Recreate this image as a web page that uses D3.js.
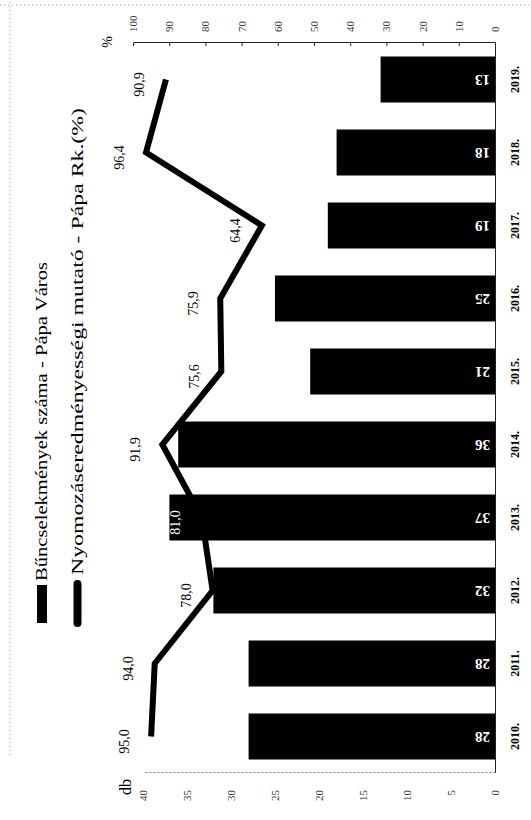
<!DOCTYPE html>
<html>
<head>
<meta charset="utf-8">
<script src="https://cdn.jsdelivr.net/npm/d3@7"></script>
<style>
  body { margin: 0; background: #fff; }
  svg text { font-family: 'Liberation Serif', 'Times New Roman', serif; }
</style>
</head>
<body>
<div id="graph"></div>
<script>
const years = ['2010.', '2011.', '2012.', '2013.', '2014.', '2015.', '2016.', '2017.', '2018.', '2019.'];
const crimeCounts = [28, 28, 32, 37, 36, 21, 25, 19, 18, 13];
const clearanceRates = [95.0, 94.0, 78.0, 81.0, 91.9, 75.6, 75.9, 64.4, 96.4, 90.9];
const dbTicks = [0, 5, 10, 15, 20, 25, 30, 35, 40];
const pctTicks = [0, 10, 20, 30, 40, 50, 60, 70, 80, 90, 100];
const legendLabels = ['Bűncselekmények száma - Pápa Város', 'Nyomozáseredményességi mutató - Pápa Rk.(%)'];

const W = 531, H = 820;

// the scanned chart lies on its side, so build it in an 820 x 531 frame and turn it
const svg = d3.select('#graph')
  .append('svg')
  .attr('width', W)
  .attr('height', H);

const g = svg.append('g')
  .attr('transform', `translate(0, ${H}) rotate(-90)`);

const x = d3.scaleBand()
  .domain(years)
  .range([47, 777])
  .paddingInner(0.37)
  .paddingOuter(0.185);

const yDb = d3.scaleLinear().domain([0, 40]).range([495, 143]);
const yPct = d3.scaleLinear().domain([0, 100]).range([495, 133]);
const bw = x.bandwidth();

// faint dotted frame from the scan
g.append('line')
  .attr('x1', 815).attr('x2', 815).attr('y1', 0).attr('y2', 531)
  .attr('stroke', '#999').attr('stroke-dasharray', '1,3');
g.append('line')
  .attr('x1', 65).attr('x2', 820).attr('y1', 10).attr('y2', 10)
  .attr('stroke', '#999').attr('stroke-dasharray', '1,3');

// left axis (db)
const leftAxis = g.append('g')
  .attr('transform', 'translate(47, 0)')
  .call(d3.axisLeft(yDb).tickValues(dbTicks).tickSize(0).tickPadding(17));
leftAxis.select('.domain').attr('stroke', '#777').attr('stroke-dasharray', '2,2');
leftAxis.selectAll('text')
  .style('font-size', '11px')
  .attr('fill', '#333');

// right axis (%)
const rightAxis = g.append('g')
  .attr('transform', 'translate(777, 0)')
  .call(d3.axisRight(yPct).tickValues(pctTicks).tickSizeInner(-3).tickSizeOuter(0).tickPadding(11));
rightAxis.select('.domain').attr('stroke', '#222');
rightAxis.selectAll('.tick line').attr('stroke', '#222');
rightAxis.selectAll('text')
  .style('font-size', '11px')
  .attr('fill', '#333');

// bars
g.selectAll('.bar')
  .data(years)
  .enter()
  .append('rect')
  .attr('class', 'bar')
  .attr('x', (d) => x(d))
  .attr('width', bw)
  .attr('y', (d, i) => yDb(crimeCounts[i]))
  .attr('height', (d, i) => yDb(0) - yDb(crimeCounts[i]))
  .attr('fill', '#000');

// x axis (years)
const xAxis = g.append('g')
  .attr('transform', `translate(0, ${yDb(0)})`)
  .call(d3.axisBottom(x).tickSize(0).tickPadding(15));
xAxis.select('.domain').attr('stroke', '#222');
xAxis.selectAll('text')
  .style('font-size', '12px')
  .style('font-weight', 'bold')
  .attr('fill', '#000');

// bar values, written sideways inside the bars
g.selectAll('.bar-label')
  .data(years)
  .enter()
  .append('text')
  .attr('class', 'bar-label')
  .attr('transform', (d) => `translate(${x(d) + bw / 2}, ${yDb(0) - 5}) rotate(-90)`)
  .attr('text-anchor', 'start')
  .attr('dominant-baseline', 'central')
  .style('font-size', '15px')
  .style('font-weight', 'bold')
  .attr('fill', '#fff')
  .text((d, i) => crimeCounts[i]);

// clearance rate line
const line = d3.line()
  .x((d, i) => x(years[i]) + bw / 2)
  .y((d) => yPct(d));

g.append('path')
  .datum(clearanceRates)
  .attr('d', line)
  .attr('fill', 'none')
  .attr('stroke', '#000')
  .attr('stroke-width', 6)
  .attr('stroke-linejoin', 'miter');

g.selectAll('.rate-label')
  .data(clearanceRates)
  .enter()
  .append('text')
  .attr('class', 'rate-label')
  .attr('x', (d, i) => x(years[i]) + bw / 2 - 5)
  .attr('y', (d) => yPct(d) - 22)
  .attr('text-anchor', 'middle')
  .style('font-size', '14px')
  .attr('fill', (d, i) => (yPct(d) - 27 > yDb(crimeCounts[i]) ? '#fff' : '#000'))
  .text((d) => d.toFixed(1).replace('.', ','));

// axis titles
g.append('text')
  .attr('x', 33).attr('y', 131)
  .attr('text-anchor', 'middle')
  .style('font-size', '16px')
  .text('db');
g.append('text')
  .attr('x', 778).attr('y', 112)
  .attr('text-anchor', 'middle')
  .style('font-size', '14px')
  .text('%');

// legend
g.append('rect')
  .attr('x', 197).attr('y', 37)
  .attr('width', 38).attr('height', 10)
  .attr('fill', '#000');
g.append('text')
  .attr('x', 239).attr('y', 47)
  .attr('textLength', 319)
  .attr('lengthAdjust', 'spacingAndGlyphs')
  .style('font-size', '16px')
  .text(legendLabels[0]);

g.append('line')
  .attr('x1', 197).attr('x2', 236)
  .attr('y1', 77.5).attr('y2', 77.5)
  .attr('stroke', '#000')
  .attr('stroke-width', 8)
  .attr('stroke-linecap', 'round');
g.append('text')
  .attr('x', 245).attr('y', 83)
  .attr('textLength', 467)
  .attr('lengthAdjust', 'spacingAndGlyphs')
  .style('font-size', '16px')
  .text(legendLabels[1]);
</script>
</body>
</html>
